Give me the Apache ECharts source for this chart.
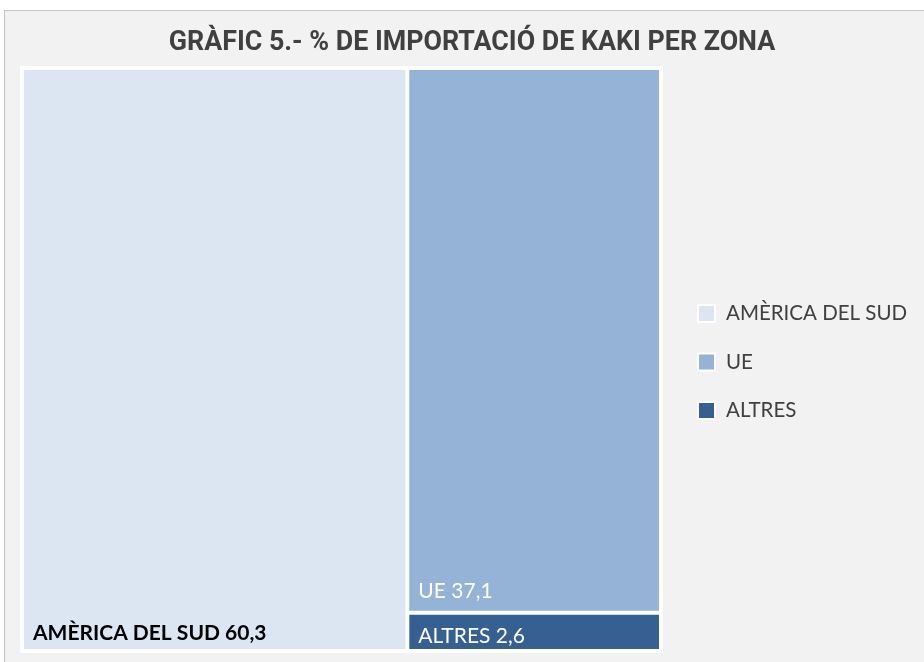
<!DOCTYPE html>
<html>
<head>
<meta charset="utf-8">
<script src="https://cdn.jsdelivr.net/npm/echarts@6/dist/echarts.min.js"></script>
<style>
  html, body { margin: 0; padding: 0; background: #ffffff; overflow: hidden; }
  #frame {
    position: absolute; left: 4px; top: 10px; width: 940px; height: 670px;
    background: #f2f2f2; border: 1px solid #c6c6c6;
  }
  #chart { position: absolute; left: 0; top: 0; width: 924px; height: 662px; }
</style>
</head>
<body>
<div id="frame"></div>
<div id="chart"></div>
<script>
// zones i percentatges
const zones = ["AMÈRICA DEL SUD", "UE", "ALTRES"];
const percents = [60.3, 37.1, 2.6];
const zoneColors = ["#dce6f2", "#95b3d7", "#376092"];
const labelColors = ["#000000", "#ffffff", "#ffffff"];
const labelOffsets = [[0, 4], [0, 0], [0, 7]];

const fmt = v => String(v).replace(".", ",");

const treeData = zones.map((name, i) => ({
  name,
  value: percents[i],
  itemStyle: { color: zoneColors[i] },
  label: {
    color: labelColors[i],
    fontWeight: i === 0 ? "bold" : "normal",
    offset: labelOffsets[i]
  }
}));

// series buides només per a la llegenda
const legendSeries = zones.map((name, i) => ({
  type: "pie",
  name,
  data: [],
  showEmptyCircle: false,
  silent: true,
  color: zoneColors[i]
}));

const chart = echarts.init(document.getElementById("chart"), null, { renderer: "canvas" });
chart.setOption({
  backgroundColor: "transparent",
  animation: false,
  title: {
    text: "GRÀFIC 5.- % DE IMPORTACIÓ DE KAKI PER ZONA",
    left: 467,
    textAlign: "center",
    top: 25,
    textStyle: {
      fontFamily: "Roboto",
      fontWeight: "bold",
      fontSize: 26.8,
      color: "#404040"
    }
  },
  legend: {
    orient: "vertical",
    left: 697,
    top: 303,
    padding: 0,
    selectedMode: false,
    icon: "rect",
    itemWidth: 17,
    itemHeight: 17,
    itemGap: 27.5,
    itemStyle: { borderColor: "#ffffff", borderWidth: 2 },
    data: zones,
    textStyle: {
      fontFamily: "Lato",
      fontSize: 20.5,
      color: "#404040",
      lineHeight: 19,
      padding: [0, 0, 0, 6]
    }
  },
  series: [
    {
      type: "treemap",
      left: 20,
      top: 66,
      right: 261,
      bottom: 9,
      roam: false,
      nodeClick: false,
      breadcrumb: { show: false },
      squareRatio: 1,
      itemStyle: { borderColor: "#ffffff", borderWidth: 2, gapWidth: 0 },
      label: {
        show: true,
        position: "insideBottomLeft",
        distance: 4,
        fontFamily: "Lato",
        fontSize: 21,
        formatter: p => p.name + " " + fmt(p.value)
      },
      data: treeData
    },
    ...legendSeries
  ]
});
</script>
</body>
</html>
